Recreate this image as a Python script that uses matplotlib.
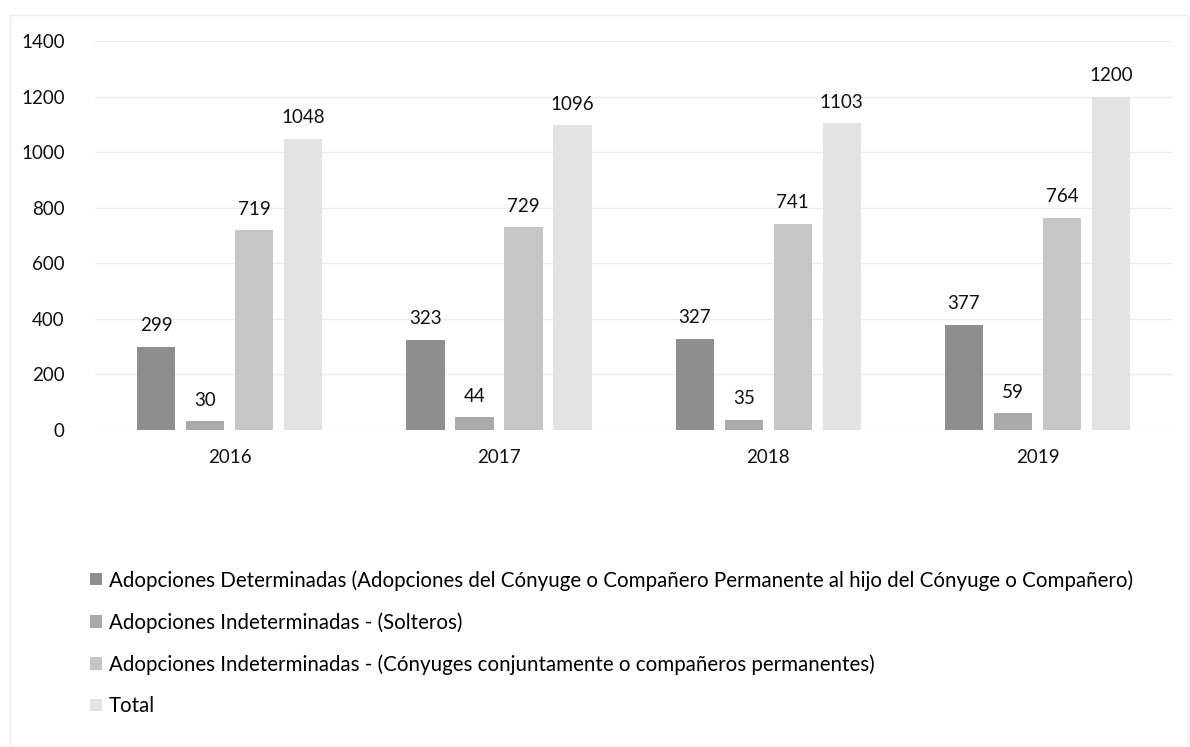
import numpy as np
import matplotlib.pyplot as plt
from matplotlib.patches import Rectangle

years = ["2016", "2017", "2018", "2019"]
series_names = [
    "Adopciones Determinadas (Adopciones del Cónyuge o Compañero Permanente al hijo del Cónyuge o Compañero)",
    "Adopciones Indeterminadas - (Solteros)",
    "Adopciones Indeterminadas - (Cónyuges conjuntamente o compañeros permanentes)",
    "Total",
]
determinadas = [299, 323, 327, 377]
solteros = [30, 44, 35, 59]
conyuges = [719, 729, 741, 764]
total = [1048, 1096, 1103, 1200]

colors = ["#8e8e8e", "#aaaaaa", "#c6c6c6", "#e3e3e3"]

plt.rcParams["font.family"] = ["Lato", "DejaVu Sans"]

fig = plt.figure(figsize=(11.9, 7.47), dpi=100)
ax = fig.add_axes([0.08, 0.425, 0.905, 0.52])

x = np.arange(len(years))
width = 0.142
step = 0.182
all_series = [determinadas, solteros, conyuges, total]
handles = []
for i, (vals, col) in enumerate(zip(all_series, colors)):
    pos = x + (i - 1.5) * step
    bars = ax.bar(pos, vals, width, color=col, zorder=3)
    handles.append(bars)
    for p, v in zip(pos, vals):
        ax.text(p, v + 45, str(v), ha="center", va="bottom", fontsize=13.5, color="#111111")

ax.set_ylim(0, 1400)
ax.set_yticks(range(0, 1401, 200))
ax.set_xlim(-0.5, 3.5)
ax.set_xticks(x)
ax.set_xticklabels(years)
ax.tick_params(axis="both", length=0, labelsize=13.5, colors="#111111")
ax.tick_params(axis="x", pad=14)
ax.tick_params(axis="y", pad=22)
ax.grid(axis="y", color="#ececec", linewidth=1, zorder=0)
for s in ax.spines.values():
    s.set_visible(False)

# legend stacked under the plot
leg = fig.legend([h[0] for h in handles], series_names, loc="upper left",
                 bbox_to_anchor=(0.069, 0.248), frameon=False, fontsize=14.8,
                 handlelength=0.55, handleheight=0.55, handletextpad=0.35,
                 labelspacing=1.05, borderaxespad=0)

# faint chart frame
fig.patches.append(Rectangle((0.008, 0.0), 0.99, 0.98, transform=fig.transFigure,
                             fill=False, edgecolor="#eeeeee", linewidth=1))

fig.savefig("out.png", dpi=100)
